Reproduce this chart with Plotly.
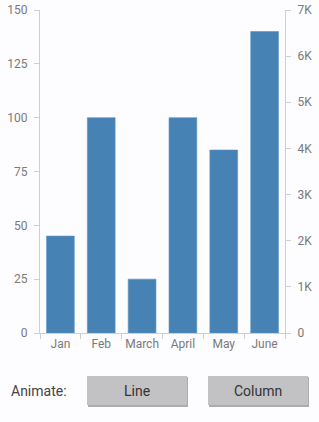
import plotly.graph_objects as go

months = ["Jan", "Feb", "March", "April", "May", "June"]
column_values = [45, 100, 25, 100, 85, 140]
left_ticks = [0, 25, 50, 75, 100, 125, 150]
right_tick_vals = [0, 1000, 2000, 3000, 4000, 5000, 6000, 7000]
right_tick_text = ["0", "1K", "2K", "3K", "4K", "5K", "6K", "7K"]
button_labels = ["Line", "Column"]

axis_col = "#cfcfcf"
tick_font = dict(family="Roboto", size=12, color="#7a7a7a")

fig = go.Figure()
fig.add_trace(go.Bar(x=months, y=column_values, marker=dict(color="#4682b4", line=dict(color="#5b95c8", width=0.6)),
                     width=0.68, showlegend=False))
fig.add_trace(go.Scatter(x=[months[0]], y=[None], yaxis="y2", mode="lines", showlegend=False))

fig.update_layout(
    width=319, height=422,
    margin=dict(l=40, r=34, t=10, b=89),
    paper_bgcolor="#fdfcfe", plot_bgcolor="#fdfcfe",
    xaxis=dict(showline=True, linecolor=axis_col, linewidth=1, ticks="outside", tickcolor=axis_col,
               ticklen=5, tickson="boundaries", showgrid=False, tickfont=tick_font, fixedrange=True,
               tickangle=0, automargin=False),
    yaxis=dict(range=[0, 150], tickvals=left_ticks, showline=True, linecolor=axis_col, linewidth=1,
               ticks="outside", tickcolor=axis_col, ticklen=5, showgrid=False, zeroline=False,
               tickfont=tick_font, ticklabelstandoff=4, automargin=False),
    yaxis2=dict(range=[0, 7000], overlaying="y", side="right", tickvals=right_tick_vals, ticktext=right_tick_text,
                showline=True, linecolor=axis_col, linewidth=1, ticks="outside", tickcolor=axis_col, ticklen=5,
                showgrid=False, zeroline=False, tickfont=tick_font, ticklabelstandoff=4, automargin=False),
)

# Buttons (decorative UI drawn as shapes)
shapes = []
annotations = []
btns = [(87, 187), (208, 308)]
for (x0, x1), lab in zip(btns, button_labels):
    shapes.append(dict(type="rect", xref="paper", yref="paper",
                       x0=(x0 - 40 + 1) / 245, x1=(x1 - 40 + 1) / 245,
                       y0=(333 - 407) / 323, y1=(333 - 377) / 323,
                       fillcolor="#acacac", line=dict(width=0), layer="below"))
    shapes.append(dict(type="rect", xref="paper", yref="paper",
                       x0=(x0 - 40) / 245, x1=(x1 - 40) / 245,
                       y0=(333 - 405) / 323, y1=(333 - 376) / 323,
                       fillcolor="#c2c1c3", line=dict(width=0)))
    annotations.append(dict(text=lab, xref="paper", yref="paper", x=((x0 + x1) / 2 - 40) / 245,
                            y=(333 - 390.5) / 323, showarrow=False, xanchor="center", yanchor="middle",
                            font=dict(family="Roboto", size=14, color="#333333")))
annotations.append(dict(text="Animate:", xref="paper", yref="paper", x=(9 - 40) / 245, y=(333 - 390.5) / 323,
                        showarrow=False, xanchor="left", yanchor="middle",
                        font=dict(family="Roboto", size=14, color="#444444")))
fig.update_layout(shapes=shapes, annotations=annotations)

fig.write_html("out.html")
